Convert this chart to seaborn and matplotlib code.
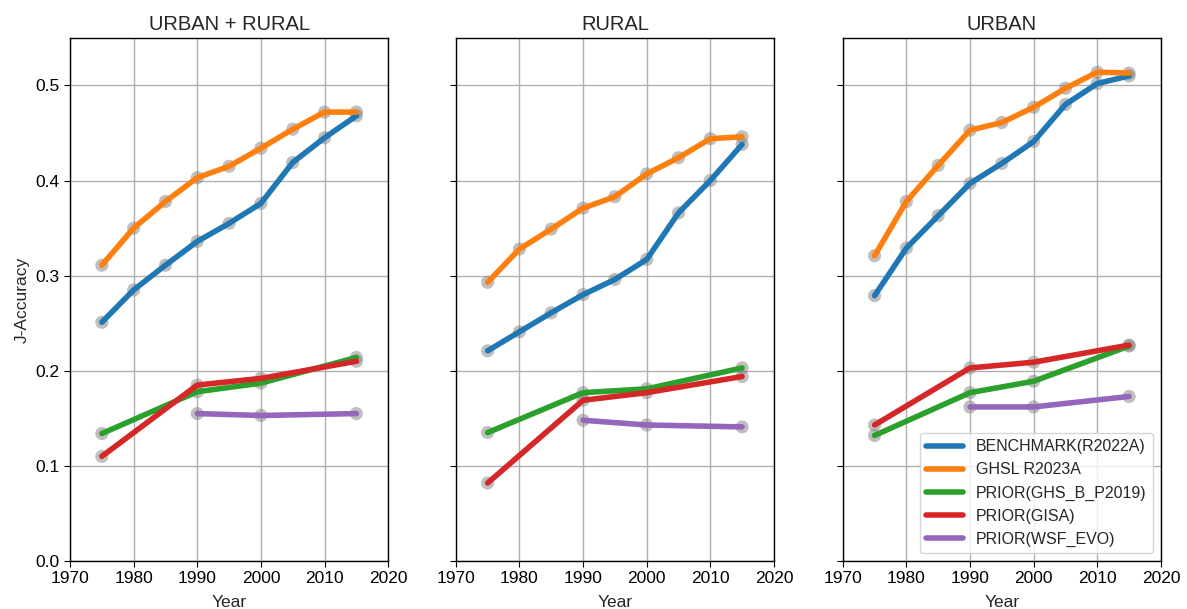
import matplotlib
matplotlib.use('Agg')
import matplotlib.pyplot as plt
import seaborn as sns
import pandas as pd

# Values
years_full = [1975, 1980, 1985, 1990, 1995, 2000, 2005, 2010, 2015]
years_prior = [1975, 1990, 2000, 2015]
years_wsf = [1990, 2000, 2015]

panels = ['URBAN + RURAL', 'RURAL', 'URBAN']
series_names = ['BENCHMARK(R2022A)', 'GHSL R2023A', 'PRIOR(GHS_B_P2019)', 'PRIOR(GISA)', 'PRIOR(WSF_EVO)']

benchmark = {
    'URBAN + RURAL': [0.251, 0.285, 0.311, 0.336, 0.355, 0.376, 0.419, 0.445, 0.468],
    'RURAL': [0.221, 0.241, 0.261, 0.280, 0.296, 0.317, 0.366, 0.400, 0.438],
    'URBAN': [0.279, 0.329, 0.363, 0.397, 0.418, 0.441, 0.480, 0.502, 0.510],
}
ghsl = {
    'URBAN + RURAL': [0.311, 0.350, 0.378, 0.403, 0.415, 0.434, 0.454, 0.472, 0.472],
    'RURAL': [0.293, 0.328, 0.349, 0.371, 0.383, 0.407, 0.424, 0.444, 0.446],
    'URBAN': [0.321, 0.378, 0.416, 0.453, 0.461, 0.477, 0.497, 0.514, 0.513],
}
prior_ghs = {
    'URBAN + RURAL': [0.134, 0.178, 0.187, 0.214],
    'RURAL': [0.135, 0.177, 0.181, 0.203],
    'URBAN': [0.132, 0.177, 0.189, 0.226],
}
prior_gisa = {
    'URBAN + RURAL': [0.110, 0.185, 0.192, 0.210],
    'RURAL': [0.082, 0.169, 0.177, 0.194],
    'URBAN': [0.143, 0.203, 0.209, 0.227],
}
prior_wsf = {
    'URBAN + RURAL': [0.155, 0.153, 0.155],
    'RURAL': [0.148, 0.143, 0.141],
    'URBAN': [0.162, 0.162, 0.173],
}

# Build a long-form table
rows = []
for p in panels:
    for name, yrs, src in [(series_names[0], years_full, benchmark),
                           (series_names[1], years_full, ghsl),
                           (series_names[2], years_prior, prior_ghs),
                           (series_names[3], years_prior, prior_gisa),
                           (series_names[4], years_wsf, prior_wsf)]:
        for y, v in zip(yrs, src[p]):
            rows.append({'Panel': p, 'Series': name, 'Year': y, 'J-Accuracy': v})
df = pd.DataFrame(rows)

sns.set_style('whitegrid')
plt.rcParams['font.family'] = ['Liberation Sans', 'DejaVu Sans']
plt.rcParams['axes.edgecolor'] = 'black'
plt.rcParams['grid.color'] = '#b0b0b0'

palette = dict(zip(series_names, sns.color_palette('tab10', 5)))

fig = plt.figure(figsize=(11.87, 6.09), dpi=100)
lefts = [0.059, 0.384, 0.710]
axes = []
for i, p in enumerate(panels):
    ax = fig.add_axes([lefts[i], 0.0788, 0.268, 0.859], sharey=axes[0] if axes else None)
    axes.append(ax)
    sub = df[df['Panel'] == p]
    # grey markers underneath the lines
    sns.scatterplot(data=sub, x='Year', y='J-Accuracy', color='grey', alpha=0.5,
                    s=90, edgecolor='none', ax=ax, legend=False, zorder=2)
    sns.lineplot(data=sub, x='Year', y='J-Accuracy', hue='Series', palette=palette,
                 hue_order=series_names, linewidth=4, ax=ax, legend=(i == 2), zorder=3)
    ax.set_title(p, fontsize=14.5)
    ax.set_xlim(1970, 2020)
    ax.set_ylim(0, 0.55)
    ax.set_xticks([1970, 1980, 1990, 2000, 2010, 2020])
    ax.set_yticks([0.0, 0.1, 0.2, 0.3, 0.4, 0.5])
    ax.tick_params(axis='both', labelsize=12.5, length=4, left=True, bottom=True, colors='black')
    ax.set_xlabel('Year', fontsize=12.5, labelpad=6)
    ax.grid(True, linewidth=1)
    for s in ax.spines.values():
        s.set_color('black')
        s.set_linewidth(1)
    if i == 0:
        ax.set_ylabel('J-Accuracy', fontsize=12.5)
    else:
        ax.set_ylabel('')
        ax.tick_params(axis='y', labelleft=False)

leg = axes[2].legend(loc='lower right', fontsize=11.5, frameon=True, handlelength=2.3)
for line in leg.get_lines():
    line.set_linewidth(4)

fig.savefig('out.png', dpi=100)
